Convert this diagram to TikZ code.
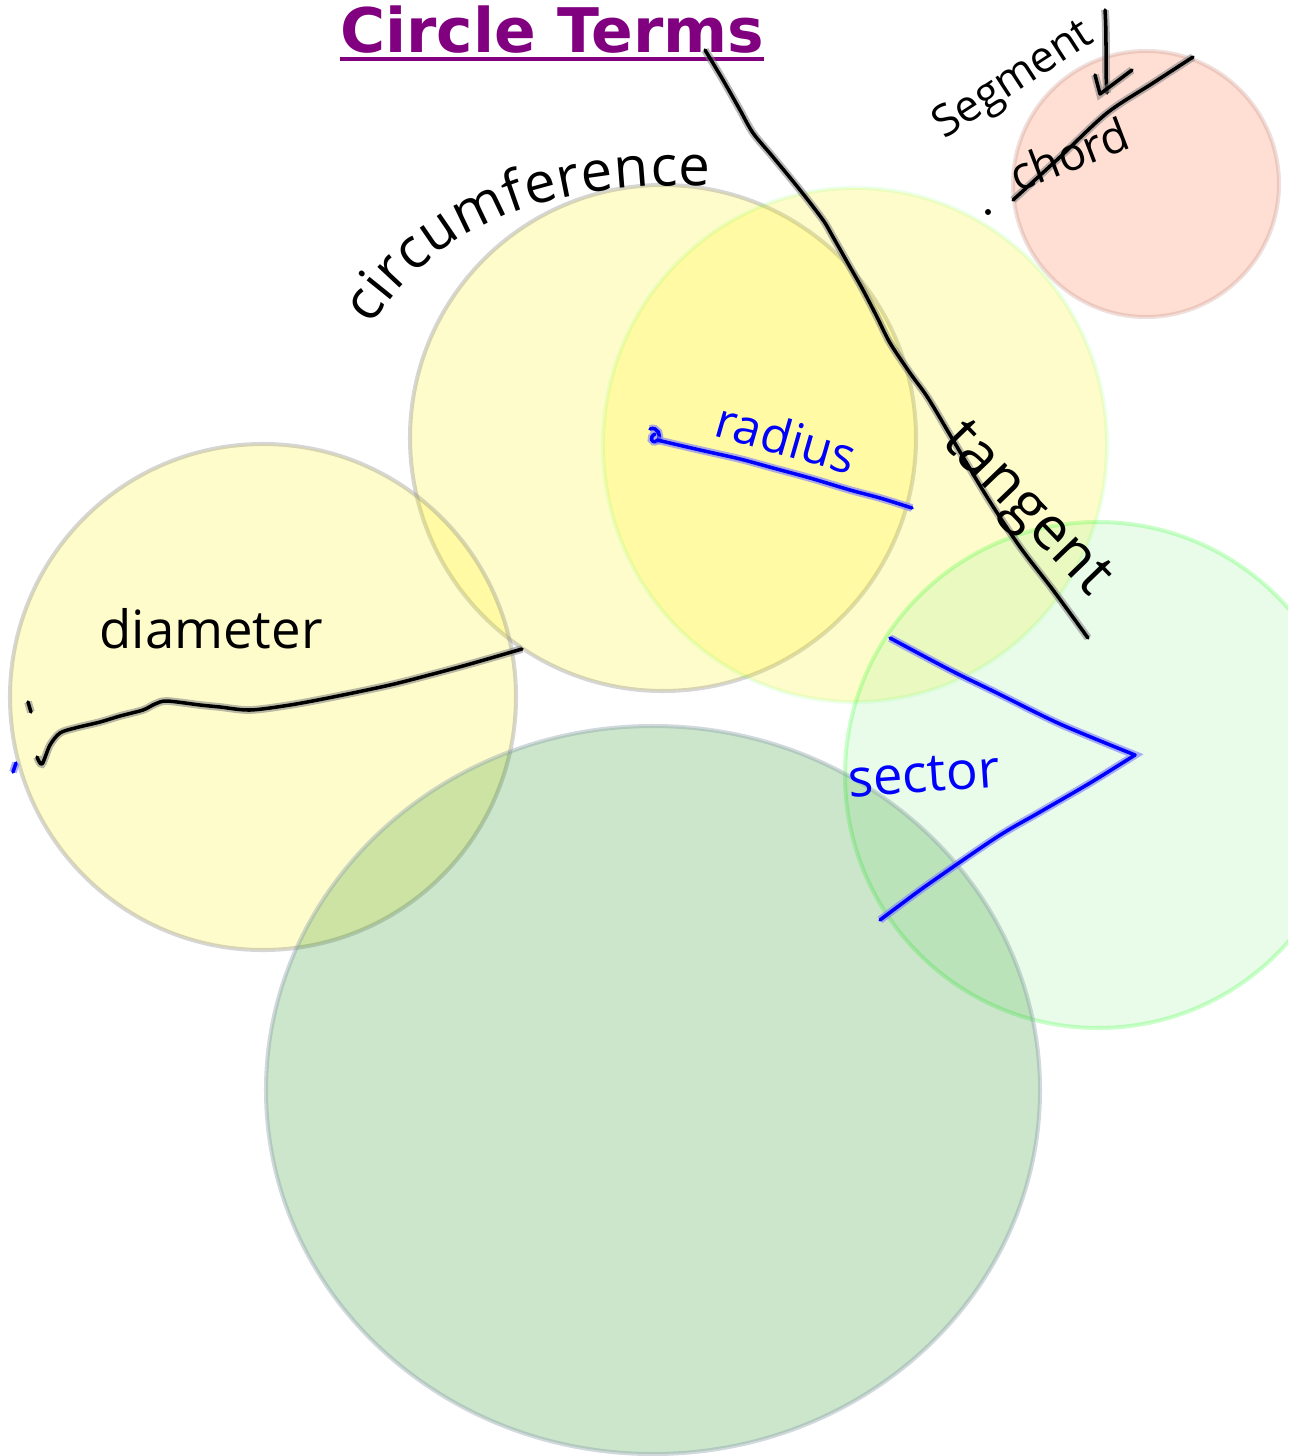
\documentclass[tikz,border=0pt]{standalone}
\usepackage{fontspec}
\setmainfont{DejaVu Sans}
\newfontfamily\handfont{Open Sans}
\usetikzlibrary{decorations.text}
\definecolor{titlepurple}{RGB}{128,0,128}
\definecolor{inkblue}{RGB}{0,0,255}
\definecolor{discgreen}{RGB}{0,128,0}
\definecolor{disclime}{RGB}{144,238,144}
\definecolor{disccoral}{RGB}{255,127,80}
\definecolor{edgegreen}{RGB}{0,255,0}
\definecolor{edgeslate}{RGB}{140,160,170}
\definecolor{edgerose}{RGB}{190,130,120}

\begin{document}
\begin{tikzpicture}[x=0.02cm, y=-0.02cm]
  \tikzstyle{disc}=[line width=2.3pt]
  \tikzstyle{yellowdisc}=[disc, fill=yellow, fill opacity=0.2, draw=black!50, draw opacity=0.32]
  \tikzstyle{paledisc}=[disc, fill=yellow, fill opacity=0.2, draw=edgegreen, draw opacity=0.08]
  \tikzstyle{coraldisc}=[disc, fill=disccoral, fill opacity=0.25, draw=edgerose, draw opacity=0.25]
  \tikzstyle{limedisc}=[disc, fill=disclime, fill opacity=0.2, draw=edgegreen, draw opacity=0.2]
  \tikzstyle{greendisc}=[disc, fill=discgreen, fill opacity=0.2, draw=edgeslate, draw opacity=0.4]
  \tikzstyle{ink}=[line width=2pt, line cap=round, line join=round,
    preaction={draw=black!50, draw opacity=0.55, line width=4.4pt}]
  \tikzstyle{blueink}=[line width=2pt, line cap=round, line join=round, draw=inkblue,
    preaction={draw=inkblue!50, draw opacity=0.65, line width=4.4pt}]
  \tikzstyle{hand}=[inner sep=0pt, anchor=base]
  \tikzstyle{titletext}=[inner sep=0pt, anchor=base west, text=titlepurple,
    font=\bfseries\fontsize{35}{41}\selectfont]

  \useasboundingbox (0,0) rectangle (1295,1456);

  % circles
  \draw[yellowdisc] (663,438) circle (253);
  \draw[paledisc] (855,445) ellipse (252 and 257);
  \draw[coraldisc] (1146,184) circle (133);
  \draw[yellowdisc] (263,697) circle (253);
  \begin{scope}
    \clip (0,0) rectangle (1288,1456);
    \draw[limedisc] (1098,775) circle (253);
  \end{scope}
  \draw[greendisc] (653,1090) ellipse (387 and 364);

  % title
  \node[titletext] (title) at (340,53) {Circle Terms};
  \draw[titlepurple, line width=2.3pt] ([yshift=-3.4pt]title.base west) -- ([yshift=-3.4pt]title.base east);

  % tangent
  \draw[ink] plot[smooth] coordinates {(705,50) (723,80) (740,110) (753,133) (773,157) (800,190)
    (823,220) (833,237) (850,267) (863,290) (877,317) (890,343) (910,373) (928,398) (953,440)
    (987,497) (1020,547) (1053,590) (1088,638)};
  \node[hand, rotate=-46, font=\handfont\fontsize{34}{40}\selectfont] (tangentlabel) at (1015,520) {tangent};

  % radius
  \draw[blueink] (650,429) .. controls (657,426) and (663,436) .. (657,441)
    .. controls (651,444) and (649,437) .. (655,434);
  \draw[blueink] plot[smooth] coordinates {(657,440) (700,450) (740,459) (773,468) (810,478)
    (850,490) (880,498) (912,508)};
  \node[hand, rotate=-16, text=inkblue, font=\handfont\fontsize{28}{34}\selectfont] (radiuslabel) at (781,455) {radius};

  % circumference
  \path[decorate, decoration={text along path, text align={fit to path},
    text={|\handfont\fontsize{32}{38}\selectfont|circumference}}]
    (372,326) .. controls (425,240) and (525,180) .. (710,186);

  % diameter
  \draw[ink] plot[smooth] coordinates {(522,649) (470,664) (433,674) (390,685) (333,697) (290,705)
    (250,710) (220,707) (200,705) (167,701) (155,704) (143,710) (120,716) (100,722) (75,728)
    (60,733) (50,745) (42,764) (37,757)};
  \draw[ink] (28,702) -- (31,712);
  \draw[blueink] (16,763) -- (13,772);
  \node[hand, font=\handfont\fontsize{30}{36}\selectfont] (diameterlabel) at (211,648) {diameter};

  % segment / chord
  \node[hand, rotate=33, font=\handfont\fontsize{25}{30}\selectfont] (segmentlabel) at (1020,90) {Segment};
  \draw[ink] (1105,10) .. controls (1107,40) and (1105,70) .. (1107,93);
  \draw[ink] (1095,75) -- (1100,94) -- (1132,70);
  \draw[ink] plot[smooth] coordinates {(1013,200) (1060,157) (1107,113) (1153,83) (1193,57)};
  \node[hand, rotate=21, font=\handfont\fontsize{26}{32}\selectfont] (chordlabel) at (1075,170) {chord};
  \fill (988,212) circle (3);

  % sector
  \draw[blueink] plot[smooth] coordinates {(890,638) (950,670) (997,693) (1060,724) (1135,755)}
    -- plot[smooth] coordinates {(1135,755) (1090,783) (1040,812) (997,837) (930,883) (900,905) (880,920)};
  \node[hand, rotate=4, text=inkblue, font=\handfont\fontsize{30}{36}\selectfont] (sectorlabel) at (925,792) {sector};
\end{tikzpicture}
\end{document}
